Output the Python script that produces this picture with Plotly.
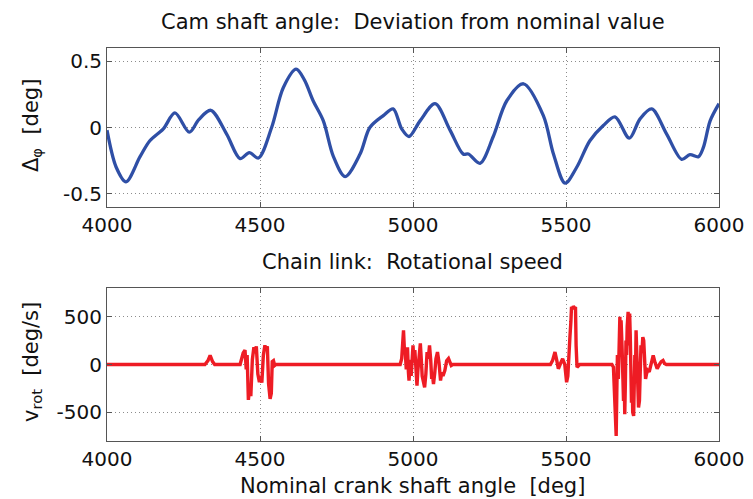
import plotly.graph_objects as go
from plotly.subplots import make_subplots

# Cam shaft angle deviation (deg) over nominal crank shaft angle (deg)
cam_x = [4000, 4030, 4062, 4108, 4140, 4184, 4222, 4269, 4300, 4339, 4391, 4435,
         4465, 4495, 4538, 4576, 4618, 4645, 4674, 4707, 4740, 4778, 4827, 4859,
         4903, 4935, 4963, 4987, 5023, 5072, 5121, 5164, 5181, 5219, 5262, 5306,
         5361, 5426, 5459, 5497, 5535, 5578, 5622, 5660, 5707, 5742, 5780, 5829,
         5878, 5905, 5933, 5949, 5971, 6000]
cam_y = [-0.02, -0.30, -0.41, -0.22, -0.10, -0.01, 0.11, -0.035, 0.06, 0.13, -0.05, -0.235,
         -0.19, -0.23, 0.00, 0.30, 0.44, 0.36, 0.20, 0.05, -0.22, -0.37, -0.20, 0.00,
         0.09, 0.14, -0.01, -0.068, 0.05, 0.18, -0.02, -0.20, -0.20, -0.27, -0.07, 0.20,
         0.33, 0.09, -0.20, -0.42, -0.30, -0.10, 0.015, 0.08, -0.08, 0.065, 0.14, -0.05,
         -0.24, -0.205, -0.22, -0.15, 0.05, 0.18]

# Chain link rotational speed (deg/s)
rot_x = [4000, 4320, 4330, 4337, 4345, 4352,
         4435, 4445, 4451, 4455, 4458, 4462, 4466, 4470, 4475, 4480, 4484, 4488,
         4493, 4498, 4502, 4506, 4511, 4516, 4520, 4524, 4528, 4533, 4537, 4540,
         4544, 4548, 4552,
         4958, 4963, 4969, 4972, 4975, 4978, 4982, 4985, 4987, 4991, 4994, 5000,
         5003, 5006, 5010, 5013, 5016, 5020, 5024, 5027, 5030, 5034, 5038, 5042,
         5046, 5050, 5054, 5058, 5061, 5064, 5067, 5071, 5075, 5080, 5085, 5090,
         5094, 5098, 5104, 5110, 5116, 5120, 5125, 5130,
         5449, 5456, 5464, 5470, 5475, 5482, 5489, 5496, 5502, 5506, 5510, 5513,
         5516, 5518, 5521, 5524, 5528, 5531, 5533, 5536, 5545,
         5650, 5655, 5659, 5664, 5666, 5668, 5671, 5673, 5676, 5678, 5680, 5683,
         5685, 5688, 5690, 5692, 5694, 5696, 5698, 5700, 5703, 5705, 5708, 5710,
         5712, 5714, 5716, 5718, 5721, 5723, 5725, 5727, 5729, 5731, 5733, 5735,
         5737, 5740, 5742, 5745, 5748, 5751, 5754, 5757, 5760, 5763, 5767, 5772,
         5778, 5785, 5791, 5798, 5805, 5811, 5817, 5822, 5828, 6000]
rot_y = [0, 0, 40, 95, 30, 0,
         0, 120, 150, -50, 100, -370, -250, -330, 50, 180, 120, 190,
         -100, -185, -120, -190, 100, 200, 150, 190, -200, -360, -300, 30,
         40, -10, 0,
         0, 60, 358, 150, 115, -50, 180, -80, -168, 50, -120, 200,
         20, 150, -150, -221, -60, 120, 220, 60, -120, -180, -239, -100,
         130, 60, 200, 40, -150, -120, -204, -90, 60, 130, 20, -168,
         -80, -120, -63, 40, 63, 30, -10, 0,
         0, 40, 130, 40, -45, 10, 60, 0, -186, -120, 253, 300,
         450, 603, 580, 608, 590, 600, 200, -28, 0,
         0, -28, -400, -748, -300, 100, -150, 300, 498, 150, 463, 200,
         -200, -380, -100, -520, -200, 250, 100, 400, 551, 200, 533, 300,
         -200, -400, -150, -500, -537, -200, 100, -100, 358, 150, -200, -100,
         -450, -380, 0, 200, 120, 287, 250, 0, -150, -100, -60, -77,
         0, 95, 20, -45, 0, 30, 42, 10, 0, 0]

x_ticks = [4000, 4500, 5000, 5500, 6000]
cam_ticks = [-0.5, 0, 0.5]
cam_tick_text = ["-0.5", "0", "0.5"]
rot_ticks = [-500, 0, 500]
rot_tick_text = ["-500", "0", "500"]

W, H = 753, 499
FONT = "DejaVu Sans, Liberation Sans, sans-serif"
TXT = "#111111"

fig = make_subplots(rows=2, cols=1)

fig.add_trace(go.Scatter(x=cam_x, y=cam_y, mode="lines",
                         line=dict(color="#2f4fa6", width=3.3, shape="spline", smoothing=0.9),
                         showlegend=False), row=1, col=1)
fig.add_trace(go.Scatter(x=rot_x, y=rot_y, mode="lines",
                         line=dict(color="#ee1c24", width=3.4),
                         showlegend=False), row=2, col=1)

# axes placement in pixels (left, right, top, bottom)
axL, axR = 107, 719
top_box = (48, 207)
bot_box = (288, 441)

def ydom(box):
    return [1 - box[1] / H, 1 - box[0] / H]

common = dict(showline=True, mirror="ticks", linecolor="#555555", linewidth=1,
              ticks="inside", ticklen=5, tickcolor="#555555", automargin=False,
              showgrid=True, gridcolor="#8c8c8c", gridwidth=1, griddash="1px,3px",
              zeroline=False, tickfont=dict(family=FONT, size=20, color=TXT))

fig.update_xaxes(range=[4000, 6000], tickvals=x_ticks, ticktext=[str(v) for v in x_ticks],
                 domain=[axL / W, axR / W], **common)
fig.update_yaxes(**common)
fig.update_yaxes(range=[-0.6, 0.6], tickvals=cam_ticks, ticktext=cam_tick_text,
                 domain=ydom(top_box), row=1, col=1)
fig.update_yaxes(range=[-800, 800], tickvals=rot_ticks, ticktext=rot_tick_text,
                 domain=ydom(bot_box), row=2, col=1)

cx = (axL + axR) / 2 / W
ann = dict(xref="paper", yref="paper", showarrow=False,
           xanchor="center", yanchor="middle",
           font=dict(family=FONT, size=21, color=TXT))
fig.add_annotation(text="Cam shaft angle:  Deviation from nominal value",
                   x=cx, y=1 - 22 / H, **ann)
fig.add_annotation(text="Chain link:  Rotational speed",
                   x=cx, y=1 - 262 / H, **ann)
fig.add_annotation(text="Nominal crank shaft angle  [deg]",
                   x=cx, y=1 - 486 / H, **ann)
fig.add_annotation(text="Δ<sub>φ</sub>  [deg]", textangle=-90,
                   x=32 / W, y=1 - 125 / H, **ann)
fig.add_annotation(text="v<sub>rot</sub>  [deg/s]", textangle=-90,
                   x=32 / W, y=1 - 362 / H, **ann)

fig.update_layout(width=W, height=H, margin=dict(l=0, r=0, t=0, b=0),
                  paper_bgcolor="white", plot_bgcolor="white",
                  font=dict(family=FONT))

fig.write_html("out.html")
